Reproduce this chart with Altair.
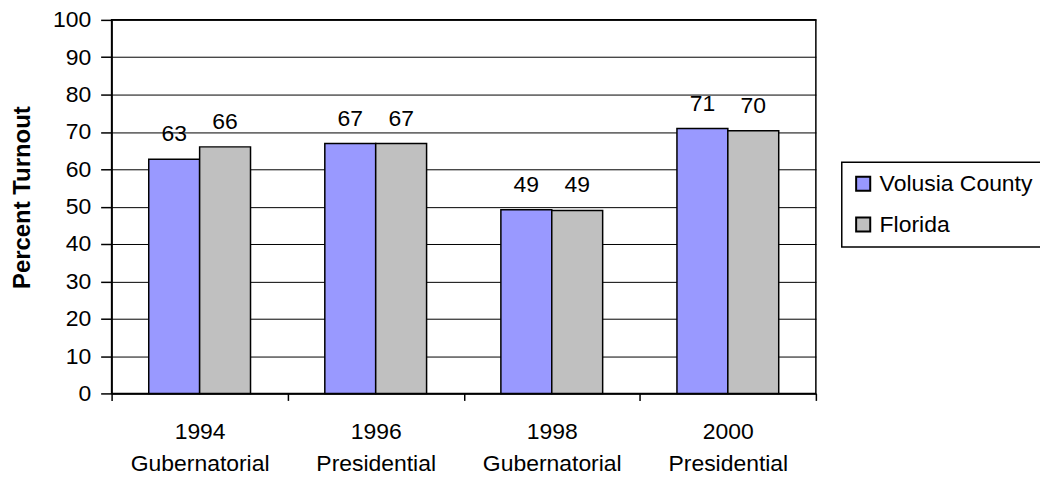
import altair as alt
import pandas as pd

elections = ["1994|Gubernatorial", "1996|Presidential", "1998|Gubernatorial", "2000|Presidential"]
volusia = [62.7, 66.9, 49.2, 70.9]
florida = [66.0, 66.9, 49.0, 70.3]
series = ["Volusia County", "Florida"]
colors = ["#9999FF", "#C0C0C0"]

rows = []
for e, v, f in zip(elections, volusia, florida):
    rows.append({"election": e, "series": series[0], "value": v})
    rows.append({"election": e, "series": series[1], "value": f})
df = pd.DataFrame(rows)

FONT = "Liberation Sans"
FS = 23

x_enc = alt.X(
    "election:N",
    sort=elections,
    scale=alt.Scale(paddingInner=0, paddingOuter=0),
    axis=alt.Axis(
        title=None,
        labelAngle=0,
        labelExpr="split(datum.label, '|')",
        labelFont=FONT,
        labelFontSize=FS,
        labelColor="black",
        labelLineHeight=32,
        labelPadding=20,
        labelOverlap=False,
        tickBand="extent",
        tickSize=7,
        tickColor="black",
        tickWidth=1.5,
        domainColor="black",
        domainWidth=1.5,
        grid=False,
    ),
)
xoff = alt.XOffset("series:N", sort=series, scale=alt.Scale(paddingInner=0, paddingOuter=0.73))
y_enc = alt.Y(
    "value:Q",
    scale=alt.Scale(domain=[0, 100], nice=False),
    axis=alt.Axis(
        title="Percent Turnout",
        titleFont=FONT,
        titleFontSize=24,
        titleFontWeight="bold",
        titleColor="black",
        titleX=-89,
        titleY=178,
        titleBaseline="middle",
        titleAngle=270,
        values=list(range(0, 101, 10)),
        labelOverlap=False,
        labelFont=FONT,
        labelFontSize=FS,
        labelColor="black",
        labelPadding=10,
        tickSize=11,
        tickColor="black",
        tickWidth=1.5,
        domainColor="black",
        domainWidth=1.5,
        grid=True,
        gridColor="black",
        gridWidth=1,
        gridOpacity=1,
    ),
)

base = alt.Chart(df).encode(x=x_enc, xOffset=xoff, y=y_enc)

bars = base.mark_bar(stroke="black", strokeWidth=1.5).encode(
    color=alt.Color(
        "series:N",
        sort=series,
        scale=alt.Scale(domain=series, range=colors),
        legend=alt.Legend(
            title=None,
            orient="none",
            legendX=733,
            legendY=143,
            symbolType="square",
            symbolSize=200,
            symbolStrokeColor="black",
            symbolStrokeWidth=2,
            labelFont=FONT,
            labelFontSize=FS,
            labelColor="black",
            labelOffset=5,
            rowPadding=17,
            padding=10,
            strokeColor="black",
            fillColor="white",
        ),
    ),
)

labels = base.mark_text(
    font=FONT, fontSize=FS, color="black", baseline="alphabetic", dy=-18
).encode(
    text=alt.Text("value:Q", format=".0f"),
)

chart = (
    alt.layer(bars, labels)
    .properties(
        width=707,
        height=375,
        autosize=alt.AutoSizeParams(type="none"),
        padding={"left": 104, "top": 11, "right": 225, "bottom": 86},
        background="white",
    )
    .configure_view(stroke="black", strokeWidth=1.5)
    .configure_legend(strokeWidth=1.5)
)

chart.save("out.html", embed_options={"renderer": "svg", "actions": False})
